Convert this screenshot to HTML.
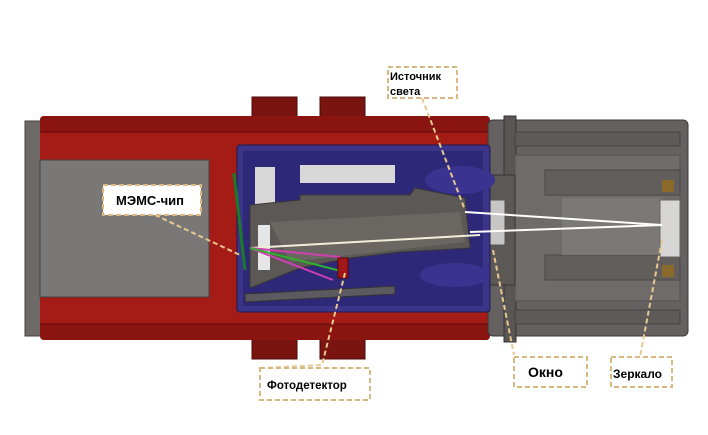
<!DOCTYPE html>
<html><head><meta charset="utf-8"><style>
html,body{margin:0;padding:0;background:#fff;}
svg{display:block;}
text{font-family:"Liberation Sans",Arial,sans-serif;font-weight:bold;fill:#000;}
</style></head><body>
<svg width="708" height="435" viewBox="0 0 708 435" xmlns="http://www.w3.org/2000/svg">
<rect width="708" height="435" fill="#fff"/>
<!-- red tabs -->
<rect x="252" y="97" width="45" height="22" fill="#7a1410" stroke="#4a0a08"/>
<rect x="320" y="97" width="45" height="22" fill="#7a1410" stroke="#4a0a08"/>
<rect x="252" y="338" width="45" height="21" fill="#7a1410" stroke="#4a0a08"/>
<rect x="320" y="338" width="45" height="21" fill="#7a1410" stroke="#4a0a08"/>
<!-- left flange -->
<rect x="25" y="121" width="17" height="215" fill="#6e6a68" stroke="#444"/>
<rect x="40" y="132" width="16" height="193" fill="#5a5654"/>
<!-- red body -->
<rect x="40" y="116" width="450" height="224" rx="4" fill="#a51c16"/>
<rect x="40" y="116" width="450" height="16" rx="4" fill="#8a1410"/>
<rect x="40" y="324" width="450" height="16" rx="4" fill="#8a1410"/>
<line x1="40" y1="132" x2="490" y2="132" stroke="#5a0a08"/>
<line x1="40" y1="324" x2="490" y2="324" stroke="#5a0a08"/>
<!-- gray box -->
<rect x="40" y="160" width="169" height="137" fill="#7a7877" stroke="#444"/>
<!-- right housing -->
<rect x="488" y="120" width="200" height="216" rx="5" fill="#656160" stroke="#3a3837"/>
<rect x="504" y="116" width="12" height="226" fill="#5a5654" stroke="#333"/>
<rect x="515" y="132" width="165" height="14" fill="#5e5a58" stroke="#444"/>
<rect x="515" y="310" width="165" height="14" fill="#5e5a58" stroke="#444"/>
<rect x="515" y="155" width="165" height="146" fill="#6f6b69" stroke="#555"/>
<rect x="545" y="170" width="135" height="25" fill="#625e5c" stroke="#4a4846"/>
<rect x="545" y="255" width="135" height="25" fill="#625e5c" stroke="#4a4846"/>
<rect x="562" y="198" width="100" height="57" fill="#7c7876"/>
<rect x="662" y="180" width="12" height="12" fill="#8a6a2a"/>
<rect x="662" y="265" width="12" height="12" fill="#8a6a2a"/>
<rect x="660" y="200" width="20" height="57" fill="#d8d6d4" stroke="#666"/>
<rect x="470" y="175" width="45" height="110" fill="#5c5856" stroke="#333"/>
<rect x="465" y="200" width="40" height="45" fill="#c8c6c4" stroke="#555"/>
<!-- blue box -->
<rect x="237" y="145" width="253" height="167" rx="3" fill="#3c3488" stroke="#1e1a50"/>
<rect x="243" y="151" width="240" height="155" fill="#2e2878"/>
<rect x="255" y="167" width="20" height="38" fill="#d8d8d8"/>
<rect x="300" y="165" width="95" height="18" fill="#d8d8d8"/>
<ellipse cx="460" cy="180" rx="35" ry="14" fill="#3a3490"/>
<ellipse cx="455" cy="275" rx="35" ry="12" fill="#3a3490"/>
<!-- gray frame inside -->
<polygon points="250,205 300,200 300,195 410,195 415,188 465,198 470,248 400,252 350,258 300,268 250,288" fill="#5c5856" stroke="#3a3837"/>
<polygon points="270,222 460,212 465,242 290,262" fill="#6a6662"/>
<rect x="245" y="290" width="150" height="8" fill="#5a5a60" stroke="#333" transform="rotate(-3 320 294)"/>
<rect x="258" y="225" width="12" height="45" fill="#e6e6e6"/>
<!-- green board -->
<line x1="234" y1="173" x2="245" y2="270" stroke="#1a7a2a" stroke-width="3"/>
<!-- rays -->
<line x1="250" y1="248" x2="480" y2="235" stroke="#f0eed8" stroke-width="2"/>
<line x1="465" y1="212" x2="662" y2="225" stroke="#fff" stroke-width="2"/>
<line x1="470" y1="232" x2="662" y2="225" stroke="#fff" stroke-width="2"/>
<line x1="250" y1="248" x2="340" y2="257" stroke="#d040b0" stroke-width="2"/>
<line x1="250" y1="248" x2="333" y2="280" stroke="#d040b0" stroke-width="2"/>
<line x1="250" y1="248" x2="345" y2="272" stroke="#30b030" stroke-width="2"/>
<rect x="338" y="258" width="10" height="20" fill="#a01818" stroke="#600"/>
<!-- leader lines -->
<g stroke="#e8c890" stroke-width="2" stroke-dasharray="5,3" fill="none">
<polyline points="155,215 240,255"/>
<polyline points="422,98 465,210"/>
<polyline points="345,273 322,365 263,368"/>
<polyline points="493,250 514,355"/>
<polyline points="662,240 640,357"/>
</g>
<!-- label boxes -->
<g fill="#fff" stroke="#d8b880" stroke-width="2" stroke-dasharray="5,3">
<rect x="103" y="185" width="98" height="30"/>
<rect x="388" y="67" width="69" height="31"/>
<rect x="260" y="368" width="110" height="32"/>
<rect x="514" y="357" width="73" height="30"/>
<rect x="611" y="357" width="61" height="30"/>
</g>
<text x="116" y="205" font-size="13">МЭМС-чип</text>
<text x="390" y="80" font-size="11">Источник</text>
<text x="390" y="95" font-size="11">света</text>
<text x="267" y="389" font-size="11.5">Фотодетектор</text>
<text x="528" y="377" font-size="14">Окно</text>
<text x="613" y="378" font-size="12">Зеркало</text>
</svg>
</body></html>
